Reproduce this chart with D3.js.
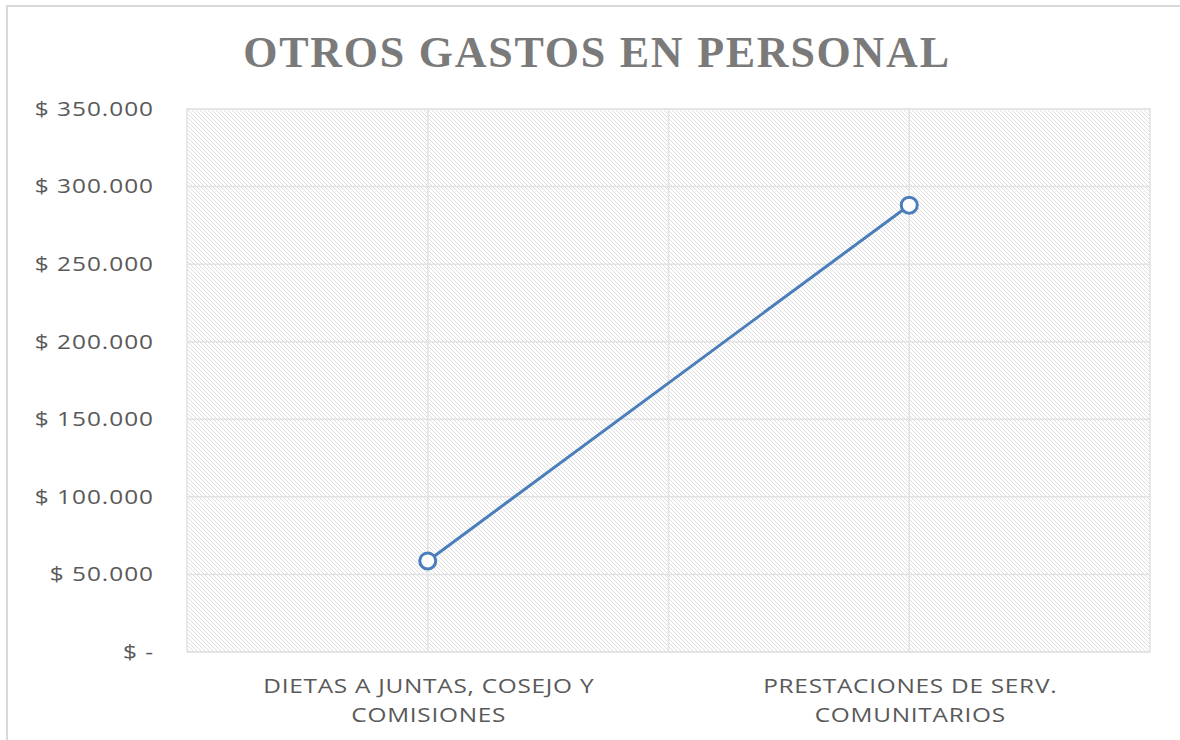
<!DOCTYPE html>
<html>
<head>
<meta charset="utf-8">
<style>
  body { margin: 0; background: #fff; }
  svg text { font-family: "Open Sans", sans-serif; }
</style>
<title>Otros gastos en personal</title>
</head>
<body>
<script src="https://cdn.jsdelivr.net/npm/d3@7"></script>
<script>
var title = "OTROS GASTOS EN PERSONAL";
var categories = [["DIETAS A JUNTAS, COSEJO Y", "COMISIONES"], ["PRESTACIONES DE SERV.", "COMUNITARIOS"]];
var values = [58700, 288000];
var yTicks = [0, 50000, 100000, 150000, 200000, 250000, 300000, 350000];

var W = 1180, H = 740;
var margin = {top: 109, right: 30, bottom: 88, left: 187};
var width = W - margin.left - margin.right;
var height = H - margin.top - margin.bottom;
var stretch = 1.22; // labels in the source look horizontally stretched

var svg = d3.select("body").append("svg")
  .attr("width", W).attr("height", H);

// hatch fill
var defs = svg.append("defs");
defs.append("pattern")
  .attr("id", "hatch")
  .attr("patternUnits", "userSpaceOnUse")
  .attr("width", 4).attr("height", 4)
  .append("path")
  .attr("d", "M-1,-1 L5,5 M-1,3 L1,5 M3,-1 L5,1")
  .attr("stroke", "#dedede")
  .attr("stroke-width", 1);

// outer chart border
svg.append("rect")
  .attr("x", 7).attr("y", 6)
  .attr("width", W + 20).attr("height", H + 20)
  .attr("fill", "none")
  .attr("stroke", "#d9d9d9")
  .attr("stroke-width", 2);

svg.append("text")
  .attr("x", 597).attr("y", 67)
  .attr("text-anchor", "middle")
  .style("font-family", "'Liberation Serif', serif")
  .style("font-weight", "bold")
  .style("font-size", "44px")
  .style("letter-spacing", "1.75px")
  .attr("fill", "#7a7a7a")
  .text(title);

var g = svg.append("g").attr("transform", "translate(" + margin.left + "," + margin.top + ")");

var x = d3.scaleBand().domain(d3.range(categories.length)).range([0, width]);
var y = d3.scaleLinear().domain([0, 350000]).range([height, 0]);

g.append("rect")
  .attr("width", width).attr("height", height)
  .attr("fill", "url(#hatch)");

// horizontal gridlines
g.selectAll(".hgrid").data(yTicks).enter().append("line")
  .attr("x1", 0).attr("x2", width)
  .attr("y1", function(d){ return y(d); })
  .attr("y2", function(d){ return y(d); })
  .attr("stroke", "#e2e2e2").attr("stroke-width", 1.5);

// vertical gridlines at category centers and boundaries
var vlines = [];
categories.forEach(function(c, i){
  vlines.push(x(i) + x.bandwidth() / 2);
  if (i > 0) vlines.push(x(i));
});
g.selectAll(".vgrid").data(vlines).enter().append("line")
  .attr("x1", function(d){ return d; }).attr("x2", function(d){ return d; })
  .attr("y1", 0).attr("y2", height)
  .attr("stroke", "#e2e2e2").attr("stroke-width", 1.5);

// plot border
g.append("rect")
  .attr("width", width).attr("height", height)
  .attr("fill", "none")
  .attr("stroke", "#e2e2e2").attr("stroke-width", 1.5);

// y axis labels
var fmt = function(d){
  if (d === 0) return "$ -";
  return "$ " + d3.format(",")(d).replace(/,/g, ".");
};
var yAxis = d3.axisLeft(y).tickValues(yTicks).tickSize(0).tickFormat(fmt);
var ya = g.append("g").call(yAxis);
ya.select(".domain").remove();
ya.selectAll("text")
  .attr("x", 0)
  .attr("transform", "translate(-33,0) scale(" + stretch + ",1)")
  .style("font-family", "'Open Sans', sans-serif")
  .style("font-size", "20px")
  .style("letter-spacing", "0.8px")
  .attr("fill", "#595959");

// x axis labels
var xa = g.append("g").attr("transform", "translate(0," + height + ")");
categories.forEach(function(lines, i){
  var cx = x(i) + x.bandwidth() / 2 + 1;
  var t = xa.append("text")
    .attr("transform", "translate(" + cx + ",41) scale(" + stretch + ",1)")
    .attr("text-anchor", "middle")
    .style("font-size", "20px")
    .style("letter-spacing", "0.6px")
    .attr("fill", "#595959");
  lines.forEach(function(l, k){
    t.append("tspan")
      .attr("x", 0)
      .attr("dy", k === 0 ? 0 : 29)
      .text(l);
  });
});

// line
var line = d3.line()
  .x(function(d, i){ return x(i) + x.bandwidth() / 2; })
  .y(function(d){ return y(d); });

g.append("path")
  .datum(values)
  .attr("d", line)
  .attr("fill", "none")
  .attr("stroke", "#4a7ebb")
  .attr("stroke-width", 3);

g.selectAll(".pt").data(values).enter().append("circle")
  .attr("cx", function(d, i){ return x(i) + x.bandwidth() / 2; })
  .attr("cy", function(d){ return y(d); })
  .attr("r", 8)
  .attr("fill", "#fff")
  .attr("stroke", "#4a7ebb")
  .attr("stroke-width", 3);
</script>
</body>
</html>
